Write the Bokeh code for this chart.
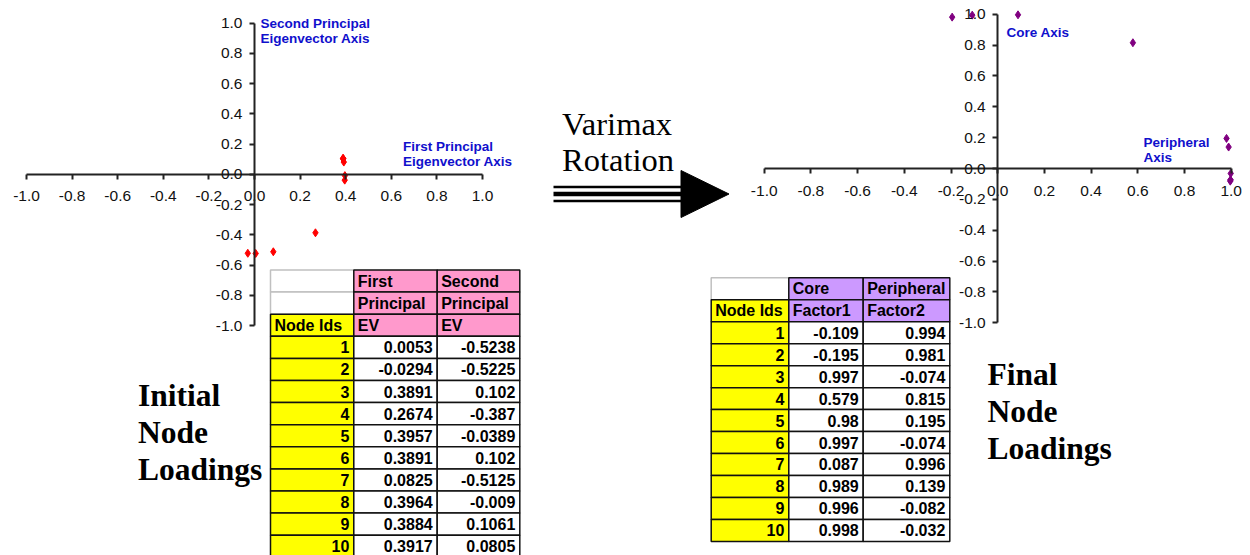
from bokeh.plotting import figure
from bokeh.models import Range1d, LinearAxis, FixedTicker, NumeralTickFormatter, ColumnDataSource
from bokeh.core.properties import value
from bokeh.embed import file_html
from bokeh.resources import INLINE

# ---------------- data ----------------
node_ids = [1, 2, 3, 4, 5, 6, 7, 8, 9, 10]
first_ev = [0.0053, -0.0294, 0.3891, 0.2674, 0.3957, 0.3891, 0.0825, 0.3964, 0.3884, 0.3917]
second_ev = [-0.5238, -0.5225, 0.102, -0.387, -0.0389, 0.102, -0.5125, -0.009, 0.1061, 0.0805]
factor1 = [-0.109, -0.195, 0.997, 0.579, 0.98, 0.997, 0.087, 0.989, 0.996, 0.998]
factor2 = [0.994, 0.981, -0.074, 0.815, 0.195, -0.074, 0.996, 0.139, -0.082, -0.032]
axis_ticks = [-1.0, -0.8, -0.6, -0.4, -0.2, 0.0, 0.2, 0.4, 0.6, 0.8, 1.0]
left_headers = [["", "First", "Second"], ["", "Principal", "Principal"], ["Node Ids", "EV", "EV"]]
right_headers = [["", "Core", "Peripheral"], ["Node Ids", "Factor1", "Factor2"]]
left_axis_titles = [["Second Principal", "Eigenvector Axis"], ["First Principal", "Eigenvector Axis"]]
right_axis_titles = [["Core Axis"], ["Peripheral", "Axis"]]
left_caption = ["Initial", "Node", "Loadings"]
right_caption = ["Final", "Node", "Loadings"]
middle_caption = ["Varimax", "Rotation"]

# ---------------- page geometry ----------------
W, H = 1250, 555
SANS = value("Liberation Sans")
SERIF = value("Liberation Serif")
BASE_SHIFT = 0.41   # text drawn with "alphabetic" lands this many em lower than asked

p = figure(width=W, height=H, x_range=Range1d(0, W), y_range=Range1d(H, 0),
           output_backend="svg", toolbar_location=None, x_axis_location=None, y_axis_location=None,
           min_border=0, outline_line_color=None, background_fill_color="white")
for g in p.grid:
    g.visible = False


def span_range(v0, px0, v1, px1, f0, f1):
    """Range whose value v0 sits at pixel px0 and v1 at px1, frame from f0 to f1."""
    k = (v1 - v0) / (px1 - px0)
    return Range1d(v0 + (f0 - px0) * k, v0 + (f1 - px0) * k)


p.extra_x_ranges = {
    "lx": span_range(-1, 26, 1, 482, 0, W),
    "rx": span_range(-1, 763.7, 1, 1230.7, 0, W),
}
p.extra_y_ranges = {
    "ly": span_range(-1, 325, 1, 22.5, H, 0),
    "ry": span_range(-1, 322.3, 1, 13.7, H, 0),
}


def add_axes(xr, yr):
    common = dict(x_range_name=xr, y_range_name=yr, fixed_location=0, bounds=(-1, 1),
                  ticker=FixedTicker(ticks=axis_ticks), formatter=NumeralTickFormatter(format="0.0"),
                  axis_line_color="#222222", axis_line_width=2,
                  major_tick_line_color="#222222", major_tick_line_width=2,
                  major_tick_out=5, major_tick_in=0, minor_tick_out=0, minor_tick_in=0,
                  major_label_text_font="Liberation Sans", major_label_text_font_size="15.5px",
                  major_label_text_color="#111111")
    xa = LinearAxis(major_label_standoff=12, **common)
    ya = LinearAxis(major_label_standoff=7, **common)
    p.add_layout(xa, "below")
    p.add_layout(ya, "left")


add_axes("lx", "ly")
add_axes("rx", "ry")

p.scatter(first_ev, second_ev, marker="diamond", size=8, color="#FF0000",
          x_range_name="lx", y_range_name="ly")
p.scatter(factor1, factor2, marker="diamond", size=8, color="#800080",
          x_range_name="rx", y_range_name="ry")


def text_lines(lines, x, y0, dy, size, **kw):
    shift = BASE_SHIFT * size
    p.text(x=[x] * len(lines), y=[y0 + i * dy - shift for i in range(len(lines))], text=lines,
           text_baseline="alphabetic", text_align="left", text_font_size=f"{size}px", **kw)


blue = dict(text_font=SANS, text_font_style="bold", text_color="#1010CC")
text_lines(left_axis_titles[0], 260, 28.5, 15.5, 13.5, **blue)
text_lines(left_axis_titles[1], 402.5, 151.5, 15.5, 13.5, **blue)
text_lines(right_axis_titles[0], 1006, 37.5, 15.5, 13.5, **blue)
text_lines(right_axis_titles[1], 1143, 147.5, 15.5, 13.5, **blue)

serif_bold = dict(text_font=SERIF, text_font_style="bold", text_color="black")
text_lines(left_caption, 137.5, 408, 37, 31.5, **serif_bold)
text_lines(right_caption, 987, 387, 37, 31.5, **serif_bold)
text_lines(middle_caption, 561.5, 137, 36, 32.5,
           text_font=SERIF, text_font_style="normal", text_color="black")

# arrow (triple-line shaft + triangular head)
p.segment(x0=[553, 553, 553], y0=[186.5, 193.5, 200.5], x1=[682, 682, 682], y1=[186.5, 193.5, 200.5],
          line_color="black", line_width=[2.5, 4.5, 2.5])
p.patch(x=[680.5, 728.5, 680.5], y=[170, 193.5, 217], fill_color="black", line_color="black")


# ---------------- tables ----------------
def draw_table(x0, y0, col_w, row_h, headers, values, head_fill):
    xs = [x0]
    for w in col_w:
        xs.append(xs[-1] + w)
    grey = dict(left=[], right=[], top=[], bottom=[])
    cells = dict(left=[], right=[], top=[], bottom=[], fill=[])
    ltxt = dict(x=[], y=[], t=[])
    rtxt = dict(x=[], y=[], t=[])
    size = 16
    shift = BASE_SHIFT * size
    nh = len(headers)
    for r, row in enumerate(headers):
        top, bot = y0 + r * row_h, y0 + (r + 1) * row_h
        for c, t in enumerate(row):
            box = (xs[c], xs[c + 1], top, bot)
            if c == 0 and t == "":
                for k, v in zip(("left", "right", "top", "bottom"), box):
                    grey[k].append(v)
                continue
            for k, v in zip(("left", "right", "top", "bottom"), box):
                cells[k].append(v)
            cells["fill"].append("#FFFF00" if c == 0 else head_fill)
            ltxt["x"].append(xs[c] + 4)
            ltxt["y"].append(bot - 4.5 - shift)
            ltxt["t"].append(t)
    for i, row_vals in enumerate(zip(*values)):
        r = nh + i
        top, bot = y0 + r * row_h, y0 + (r + 1) * row_h
        for c, v in enumerate(row_vals):
            box = (xs[c], xs[c + 1], top, bot)
            for k, vv in zip(("left", "right", "top", "bottom"), box):
                cells[k].append(vv)
            cells["fill"].append("#FFFF00" if c == 0 else "white")
            rtxt["x"].append(xs[c + 1] - 4.5)
            rtxt["y"].append(bot - 4.5 - shift)
            rtxt["t"].append(str(v))
    p.quad(source=ColumnDataSource(grey), left="left", right="right", top="top", bottom="bottom",
           fill_color="white", line_color="#C0C0C0", line_width=1.5)
    p.quad(source=ColumnDataSource(cells), left="left", right="right", top="top", bottom="bottom",
           fill_color="fill", line_color="#111111", line_width=1.5)
    tk = dict(text_font=SANS, text_font_style="bold", text_font_size=f"{size}px", text_color="black",
              text_baseline="alphabetic")
    p.text(source=ColumnDataSource(ltxt), x="x", y="y", text="t", text_align="left", **tk)
    p.text(source=ColumnDataSource(rtxt), x="x", y="y", text="t", text_align="right", **tk)


draw_table(270, 269.5, [83.3, 83.4, 82.6], 22.1, left_headers, [node_ids, first_ev, second_ev], "#FF99CC")
draw_table(710.7, 277.3, [77.6, 74.4, 86.6], 21.97, right_headers, [node_ids, factor1, factor2], "#CC99FF")

open("out.html", "w").write(file_html(p, INLINE))
